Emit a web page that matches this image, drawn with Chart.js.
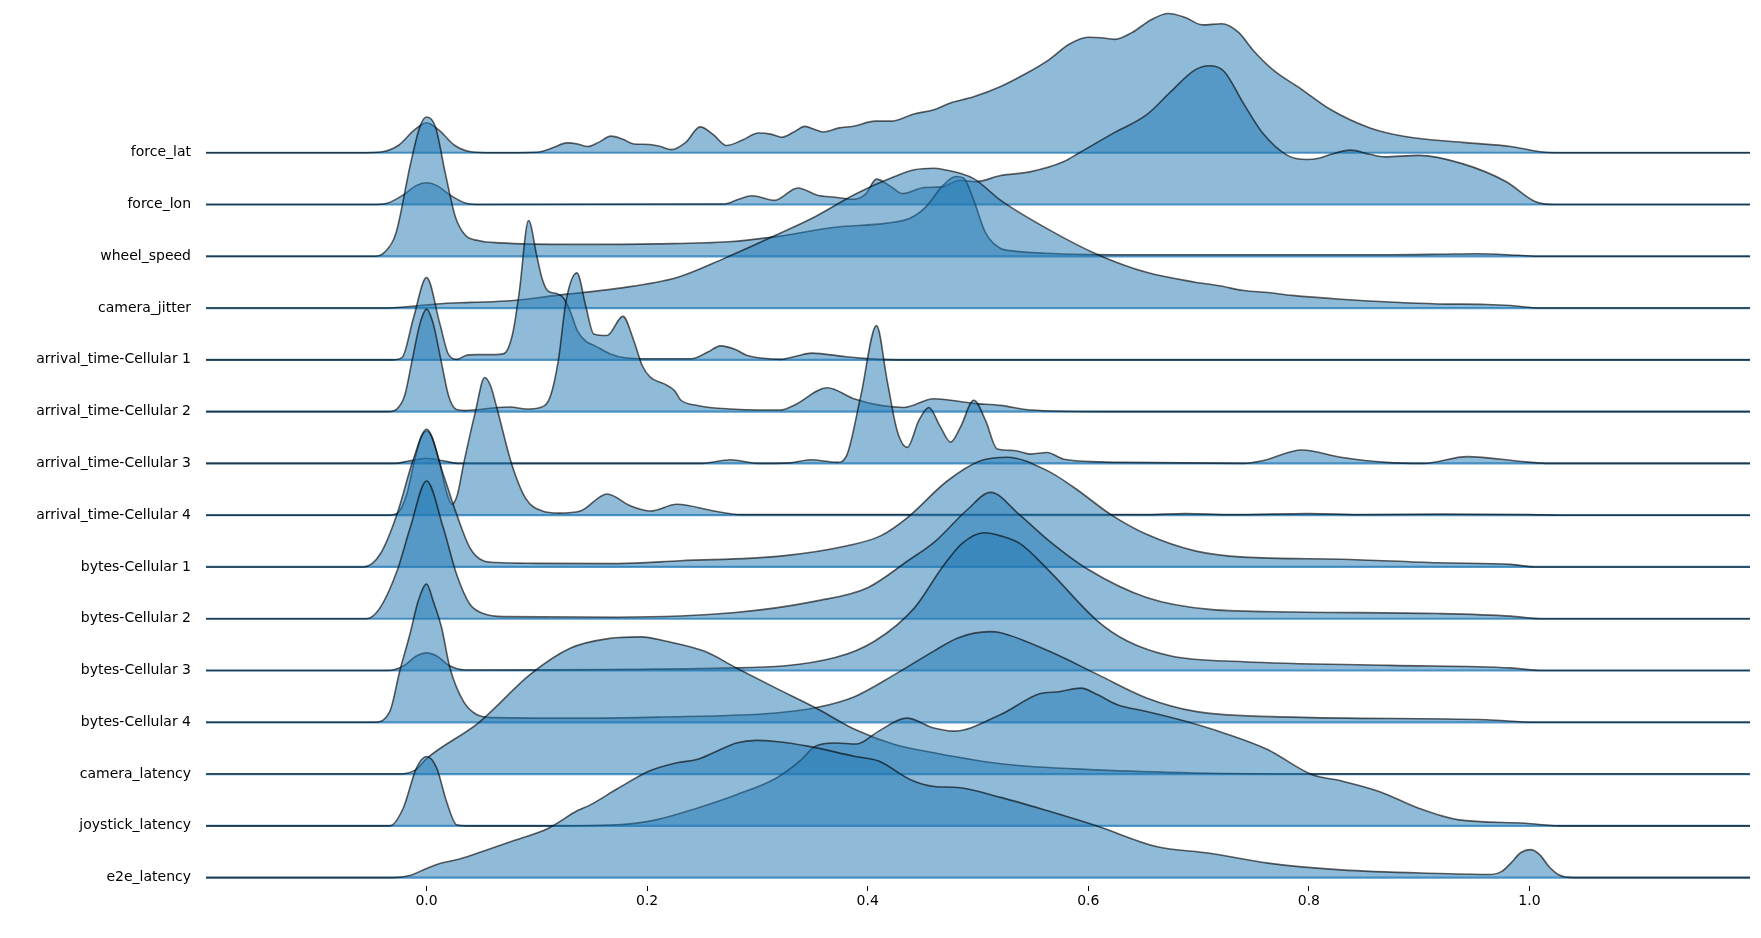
<!DOCTYPE html>
<html>
<head>
<meta charset="utf-8">
<script src="https://cdn.jsdelivr.net/npm/chart.js@4.4.1/dist/chart.umd.min.js"></script>
<style>
  html, body { margin: 0; padding: 0; background: #fff; }
  #wrap { width: 1761px; height: 938px; }
</style>
</head>
<body>
<div id="wrap"><canvas id="ridge" width="1761" height="938"></canvas></div>
<script>
// row names, top to bottom
const rowNames = ['force_lat', 'force_lon', 'wheel_speed', 'camera_jitter',
    'arrival_time-Cellular 1', 'arrival_time-Cellular 2', 'arrival_time-Cellular 3',
    'arrival_time-Cellular 4', 'bytes-Cellular 1', 'bytes-Cellular 2', 'bytes-Cellular 3',
    'bytes-Cellular 4', 'camera_latency', 'joystick_latency', 'e2e_latency'];
const xTicks = [0, 0.2, 0.4, 0.6, 0.8, 1.0];

// density curves: [x, height in row units]
const forceLat = [[-0.2,0],[-0.06,0],[-0.04,0.02],[-0.025,0.15],[-0.012,0.42],[0,0.58],[0.012,0.42],[0.025,0.15],[0.04,0.02],[0.06,0],
    [0.1,0.01],[0.115,0.1],[0.127,0.19],[0.137,0.17],[0.146,0.12],[0.156,0.2],[0.167,0.32],[0.178,0.26],[0.188,0.17],[0.202,0.16],
    [0.212,0.12],[0.222,0.06],[0.235,0.2],[0.248,0.5],[0.26,0.35],[0.272,0.14],[0.286,0.24],[0.301,0.38],[0.312,0.36],[0.322,0.3],
    [0.333,0.4],[0.343,0.51],[0.352,0.45],[0.36,0.4],[0.374,0.48],[0.387,0.51],[0.4066,0.61],[0.421,0.61],[0.442,0.75],[0.46,0.83],
    [0.475,0.96],[0.496,1.08],[0.5206,1.28],[0.5427,1.52],[0.5646,1.8],[0.5823,2.09],[0.6,2.23],[0.612,2.22],[0.624,2.19],[0.6395,2.32],
    [0.657,2.57],[0.6726,2.69],[0.688,2.61],[0.7034,2.47],[0.721,2.49],[0.7365,2.32],[0.749,1.99],[0.767,1.61],[0.7937,1.22],[0.82,0.83],
    [0.8554,0.48],[0.886,0.32],[0.939,0.2],[0.983,0.12],[1.0095,0.02],[1.023,0],[1.2,0]];
const forceLon = [[-0.2,0],[-0.05,0],[-0.035,0.03],[-0.02,0.2],[-0.01,0.36],[0,0.42],[0.01,0.36],[0.02,0.2],[0.035,0.03],[0.05,0],
    [0.27,0.01],[0.283,0.1],[0.295,0.17],[0.3155,0.08],[0.3366,0.32],[0.3545,0.18],[0.37,0.14],[0.387,0.1],[0.398,0.2],[0.408,0.49],
    [0.42,0.36],[0.4316,0.21],[0.4513,0.33],[0.467,0.34],[0.4837,0.47],[0.498,0.44],[0.5206,0.56],[0.547,0.63],[0.578,0.83],[0.5911,0.99],
    [0.622,1.37],[0.6527,1.73],[0.6748,2.18],[0.6968,2.6],[0.71,2.68],[0.7232,2.57],[0.7408,1.95],[0.7585,1.37],[0.7805,0.95],[0.798,0.87],
    [0.81,0.9],[0.82,0.97],[0.8378,1.05],[0.855,0.97],[0.8686,0.92],[0.8995,0.95],[0.939,0.79],[0.979,0.44],[1.005,0.06],[1.023,0],[1.2,0]];
const wheelSpeed = [[-0.2,0],[-0.047,0],[-0.038,0.08],[-0.0277,0.45],[-0.015,1.74],[-0.0061,2.5],[0,2.69],[0.008,2.5],[0.017,1.6],
    [0.026,0.77],[0.035,0.41],[0.0477,0.3],[0.0656,0.26],[0.137,0.23],[0.209,0.24],[0.274,0.28],[0.317,0.38],[0.3706,0.56],[0.4172,0.64],
    [0.4388,0.74],[0.453,0.96],[0.4675,1.35],[0.48,1.54],[0.487,1.51],[0.496,1.09],[0.5069,0.45],[0.5206,0.15],[0.5295,0.11],[0.56,0.06],
    [0.65,0.03],[0.873,0.03],[0.92,0.04],[0.952,0.05],[0.99,0.02],[1.01,0],[1.2,0]];
const cameraJitter = [[-0.2,0],[-0.04,0],[-0.01,0.04],[0.0088,0.08],[0.04,0.11],[0.0762,0.14],[0.1195,0.25],[0.1733,0.38],[0.2271,0.59],
    [0.27,0.96],[0.317,1.41],[0.3527,1.77],[0.3886,2.2],[0.4244,2.54],[0.4423,2.67],[0.46,2.7],[0.4675,2.68],[0.496,2.5],[0.5206,2.08],
    [0.5646,1.51],[0.6087,1.03],[0.6527,0.69],[0.697,0.5],[0.7188,0.43],[0.7408,0.34],[0.7629,0.3],[0.7848,0.245],[0.829,0.17],[0.873,0.116],
    [0.917,0.08],[0.961,0.07],[0.983,0.05],[1.0095,0],[1.2,0]];
const arrival1 = [[-0.2,0],[-0.03,0],[-0.022,0.05],[-0.012,0.8],[0,1.59],[0.012,0.7],[0.02,0.1],[0.028,0.01],[0.035,0.08],[0.045,0.1],
    [0.06,0.1],[0.07,0.12],[0.078,0.5],[0.084,1.3],[0.0925,2.69],[0.1,2.0],[0.105,1.55],[0.11,1.33],[0.118,1.28],[0.124,1.2],[0.13,0.95],
    [0.137,0.55],[0.145,0.35],[0.152,0.28],[0.166,0.12],[0.18,0.04],[0.2,0.02],[0.24,0.02],[0.255,0.15],[0.2666,0.27],[0.28,0.2],[0.29,0.09],
    [0.305,0.03],[0.321,0.01],[0.335,0.07],[0.349,0.13],[0.38,0.06],[0.41,0.01],[0.45,0],[1.2,0]];
const arrival2 = [[-0.2,0],[-0.035,0],[-0.027,0.05],[-0.02,0.3],[-0.013,1.0],[-0.006,1.7],[0,1.98],[0.006,1.7],[0.013,1.0],[0.02,0.3],
    [0.027,0.04],[0.035,0.02],[0.048,0.04],[0.06,0.07],[0.076,0.09],[0.09,0.05],[0.103,0.08],[0.112,0.28],[0.1195,0.99],[0.1266,2.15],
    [0.1363,2.68],[0.1445,2.02],[0.1516,1.5],[0.1637,1.47],[0.178,1.84],[0.1879,1.37],[0.1955,0.89],[0.203,0.66],[0.215,0.54],[0.225,0.4],
    [0.2302,0.23],[0.2454,0.12],[0.2756,0.05],[0.3209,0.03],[0.333,0.12],[0.3633,0.46],[0.3874,0.25],[0.4116,0.12],[0.4328,0.08],[0.46,0.25],
    [0.4961,0.16],[0.5206,0.12],[0.5475,0.03],[0.61,0],[1.2,0]];
const arrival3 = [[-0.2,0],[-0.03,0],[-0.015,0.05],[0,0.1],[0.015,0.05],[0.03,0],[0.25,0],[0.2756,0.07],[0.2998,0],[0.33,0.01],
    [0.3481,0.07],[0.3723,0.02],[0.3814,0.18],[0.3935,1.28],[0.408,2.66],[0.4176,1.6],[0.4267,0.63],[0.4358,0.31],[0.4464,0.83],[0.4554,1.08],
    [0.466,0.7],[0.4751,0.41],[0.4841,0.7],[0.4962,1.22],[0.5068,0.83],[0.5174,0.28],[0.5325,0.25],[0.5476,0.18],[0.5627,0.21],[0.5778,0.08],
    [0.611,0.03],[0.6307,0.02],[0.7408,0],[0.758,0.05],[0.7937,0.26],[0.829,0.12],[0.87,0.02],[0.904,0],[0.9435,0.13],[0.9964,0.03],
    [1.018,0],[1.2,0]];
const arrival4 = [[-0.2,0],[-0.035,0],[-0.027,0.03],[-0.018,0.4],[-0.0117,0.99],[-0.005,1.5],[0,1.62],[0.005,1.5],[0.0121,0.99],[0.018,0.45],
    [0.023,0.21],[0.028,0.4],[0.0336,0.99],[0.0442,1.99],[0.0527,2.66],[0.058,2.5],[0.064,2.05],[0.077,1.0],[0.09,0.32],[0.105,0.08],
    [0.12,0.04],[0.1395,0.08],[0.1637,0.41],[0.1848,0.18],[0.2029,0.08],[0.227,0.21],[0.2605,0.08],[0.2847,0.01],[0.65,0.01],[0.688,0.03],
    [0.73,0.01],[0.8,0.03],[0.85,0.01],[0.92,0.02],[1.0,0.01],[1.03,0],[1.2,0]];
const bytes1 = [[-0.2,0],[-0.057,0],[-0.042,0.25],[-0.0268,1.02],[-0.0117,2.1],[0,2.66],[0.0151,1.79],[0.0272,1.02],[0.0393,0.37],
    [0.0514,0.12],[0.0635,0.085],[0.1,0.07],[0.173,0.065],[0.2302,0.12],[0.3209,0.21],[0.3814,0.41],[0.4116,0.6],[0.4358,0.95],[0.4721,1.66],
    [0.5023,2.05],[0.5265,2.12],[0.5628,1.86],[0.5867,1.54],[0.6219,0.99],[0.6528,0.63],[0.6968,0.31],[0.7408,0.19],[0.829,0.15],[0.917,0.08],
    [0.983,0.05],[1.005,0],[1.2,0]];
const bytes2 = [[-0.2,0],[-0.0543,0],[-0.0422,0.21],[-0.0268,0.92],[-0.0148,1.76],[0,2.66],[0.0151,1.76],[0.0272,0.86],[0.0393,0.28],
    [0.0514,0.1],[0.07,0.04],[0.173,0.03],[0.2801,0.12],[0.3528,0.34],[0.4,0.6],[0.4365,1.12],[0.4615,1.5],[0.49,2.1],[0.5115,2.44],
    [0.538,2.0],[0.5647,1.5],[0.6,0.95],[0.6528,0.41],[0.71,0.18],[0.785,0.13],[0.917,0.1],[0.983,0.05],[1.0095,0],[1.2,0]];
const bytes3 = [[-0.2,0],[-0.035,0],[-0.02,0.1],[-0.01,0.27],[0,0.34],[0.01,0.27],[0.02,0.1],[0.035,0.01],[0.281,0.05],[0.3706,0.25],
    [0.4065,0.57],[0.4424,1.21],[0.4675,1.99],[0.4854,2.45],[0.5054,2.66],[0.5206,2.6],[0.5382,2.45],[0.5647,1.92],[0.6087,0.95],[0.6353,0.57],
    [0.675,0.28],[0.7408,0.17],[0.873,0.1],[0.983,0.05],[1.0095,0],[1.2,0]];
const bytes4 = [[-0.2,0],[-0.048,0],[-0.0333,0.21],[-0.0242,1.0],[-0.0151,1.7],[-0.0076,2.34],[0,2.67],[0.006,2.34],[0.0136,1.83],
    [0.0212,1.05],[0.0333,0.41],[0.0454,0.15],[0.06,0.09],[0.148,0.08],[0.2091,0.1],[0.3168,0.18],[0.3527,0.28],[0.3886,0.5],[0.4244,0.92],
    [0.4603,1.38],[0.4818,1.63],[0.5105,1.75],[0.5206,1.73],[0.5647,1.37],[0.6087,0.92],[0.6528,0.47],[0.697,0.21],[0.785,0.1],[0.961,0.05],
    [1.005,0],[1.2,0]];
const cameraLatency = [[-0.2,0],[-0.025,0],[-0.01,0.08],[0,0.3],[0.0477,1.0],[0.0943,1.93],[0.1302,2.43],[0.166,2.62],[0.1948,2.65],
    [0.2163,2.57],[0.2522,2.37],[0.2809,2.05],[0.3168,1.66],[0.3527,1.28],[0.3886,0.86],[0.4244,0.57],[0.4603,0.41],[0.5206,0.2],[0.6087,0.08],
    [0.697,0.02],[0.8,0],[1.2,0]];
const joystickLatency = [[-0.2,0],[-0.0333,0],[-0.0212,0.34],[-0.0091,1.12],[0,1.34],[0.0091,1.12],[0.0181,0.47],[0.0272,0.02],[0.035,0],
    [0.1082,0],[0.173,0.02],[0.2091,0.12],[0.245,0.34],[0.2809,0.6],[0.3168,0.92],[0.3383,1.25],[0.3527,1.54],[0.3706,1.6],[0.39,1.58],
    [0.41,1.83],[0.4353,2.08],[0.46,1.89],[0.478,1.83],[0.5206,2.15],[0.5559,2.55],[0.5735,2.59],[0.5933,2.66],[0.6087,2.53],[0.6264,2.34],
    [0.6528,2.21],[0.6881,2.02],[0.7233,1.79],[0.7629,1.47],[0.8026,0.99],[0.829,0.87],[0.8643,0.66],[0.8995,0.34],[0.9347,0.12],
    [0.9964,0.05],[1.0272,0],[1.2,0]];
const e2eLatency = [[-0.2,0],[-0.03,0],[-0.015,0.04],[-0.005,0.13],[0.01,0.26],[0.03,0.36],[0.05,0.5],[0.08,0.72],[0.11,0.95],[0.1374,1.3],
    [0.148,1.4],[0.1733,1.72],[0.202,2.06],[0.2271,2.22],[0.245,2.28],[0.263,2.44],[0.2809,2.6],[0.2989,2.65],[0.3168,2.63],[0.3455,2.54],
    [0.3886,2.34],[0.41,2.25],[0.4388,1.89],[0.4603,1.76],[0.4818,1.74],[0.5206,1.55],[0.5647,1.28],[0.6087,0.99],[0.6616,0.6],[0.71,0.47],
    [0.7629,0.28],[0.829,0.15],[0.917,0.08],[0.9655,0.06],[0.975,0.12],[0.9831,0.28],[0.992,0.48],[1.0007,0.54],[1.009,0.45],[1.0183,0.2],
    [1.027,0.05],[1.04,0],[1.2,0]];

const series = [forceLat, forceLon, wheelSpeed, cameraJitter, arrival1, arrival2, arrival3, arrival4,
    bytes1, bytes2, bytes3, bytes4, cameraLatency, joystickLatency, e2eLatency];

const lastRow = rowNames.length - 1;
const datasets = [];
series.forEach((pts, i) => {
    const base = lastRow - i;
    // blue baseline under each ridge
    datasets.push({
        data: [{x: -0.2, y: base}, {x: 1.2, y: base}],
        borderColor: 'rgba(31,119,180,0.75)',
        borderWidth: 2.2,
        pointRadius: 0,
        fill: false,
        order: 100 - 2 * i
    });
    datasets.push({
        data: pts.map(p => ({x: p[0], y: base + p[1]})),
        borderColor: 'rgba(0,0,0,0.62)',
        borderWidth: 1.6,
        backgroundColor: 'rgba(31,119,180,0.5)',
        pointRadius: 0,
        cubicInterpolationMode: 'monotone',
        fill: {value: base},
        order: 99 - 2 * i
    });
});

new Chart(document.getElementById('ridge'), {
    type: 'line',
    data: {datasets: datasets},
    options: {
        responsive: false,
        animation: false,
        layout: {padding: {left: 0, right: 11, top: 0, bottom: 0}},
        plugins: {legend: {display: false}, tooltip: {enabled: false}},
        scales: {
            x: {
                type: 'linear',
                min: -0.2,
                max: 1.2,
                afterBuildTicks: s => { s.ticks = xTicks.map(v => ({value: v})); },
                afterFit: s => { s.height = 52; },
                border: {display: false},
                grid: {display: true, drawOnChartArea: false, drawTicks: true, tickLength: 5, color: '#000', lineWidth: 1},
                ticks: {
                    autoSkip: false,
                    maxRotation: 0,
                    padding: 2,
                    color: '#000',
                    font: {family: 'DejaVu Sans', size: 14},
                    callback: v => v.toFixed(1)
                }
            },
            y: {
                type: 'linear',
                min: -0.162,
                max: 16.95,
                afterBuildTicks: s => { s.ticks = rowNames.map((_, i) => ({value: lastRow - i})); },
                afterFit: s => {
                    s.width = 206;
                    // no extra room above/below for the row labels
                    s.paddingTop = 0;
                    s.paddingBottom = 0;
                },
                border: {display: false},
                grid: {display: false, drawTicks: false},
                ticks: {
                    autoSkip: false,
                    padding: 15,
                    color: '#000',
                    font: {family: 'DejaVu Sans', size: 14},
                    callback: v => rowNames[lastRow - Math.round(v)]
                }
            }
        }
    }
});
</script>
</body>
</html>
